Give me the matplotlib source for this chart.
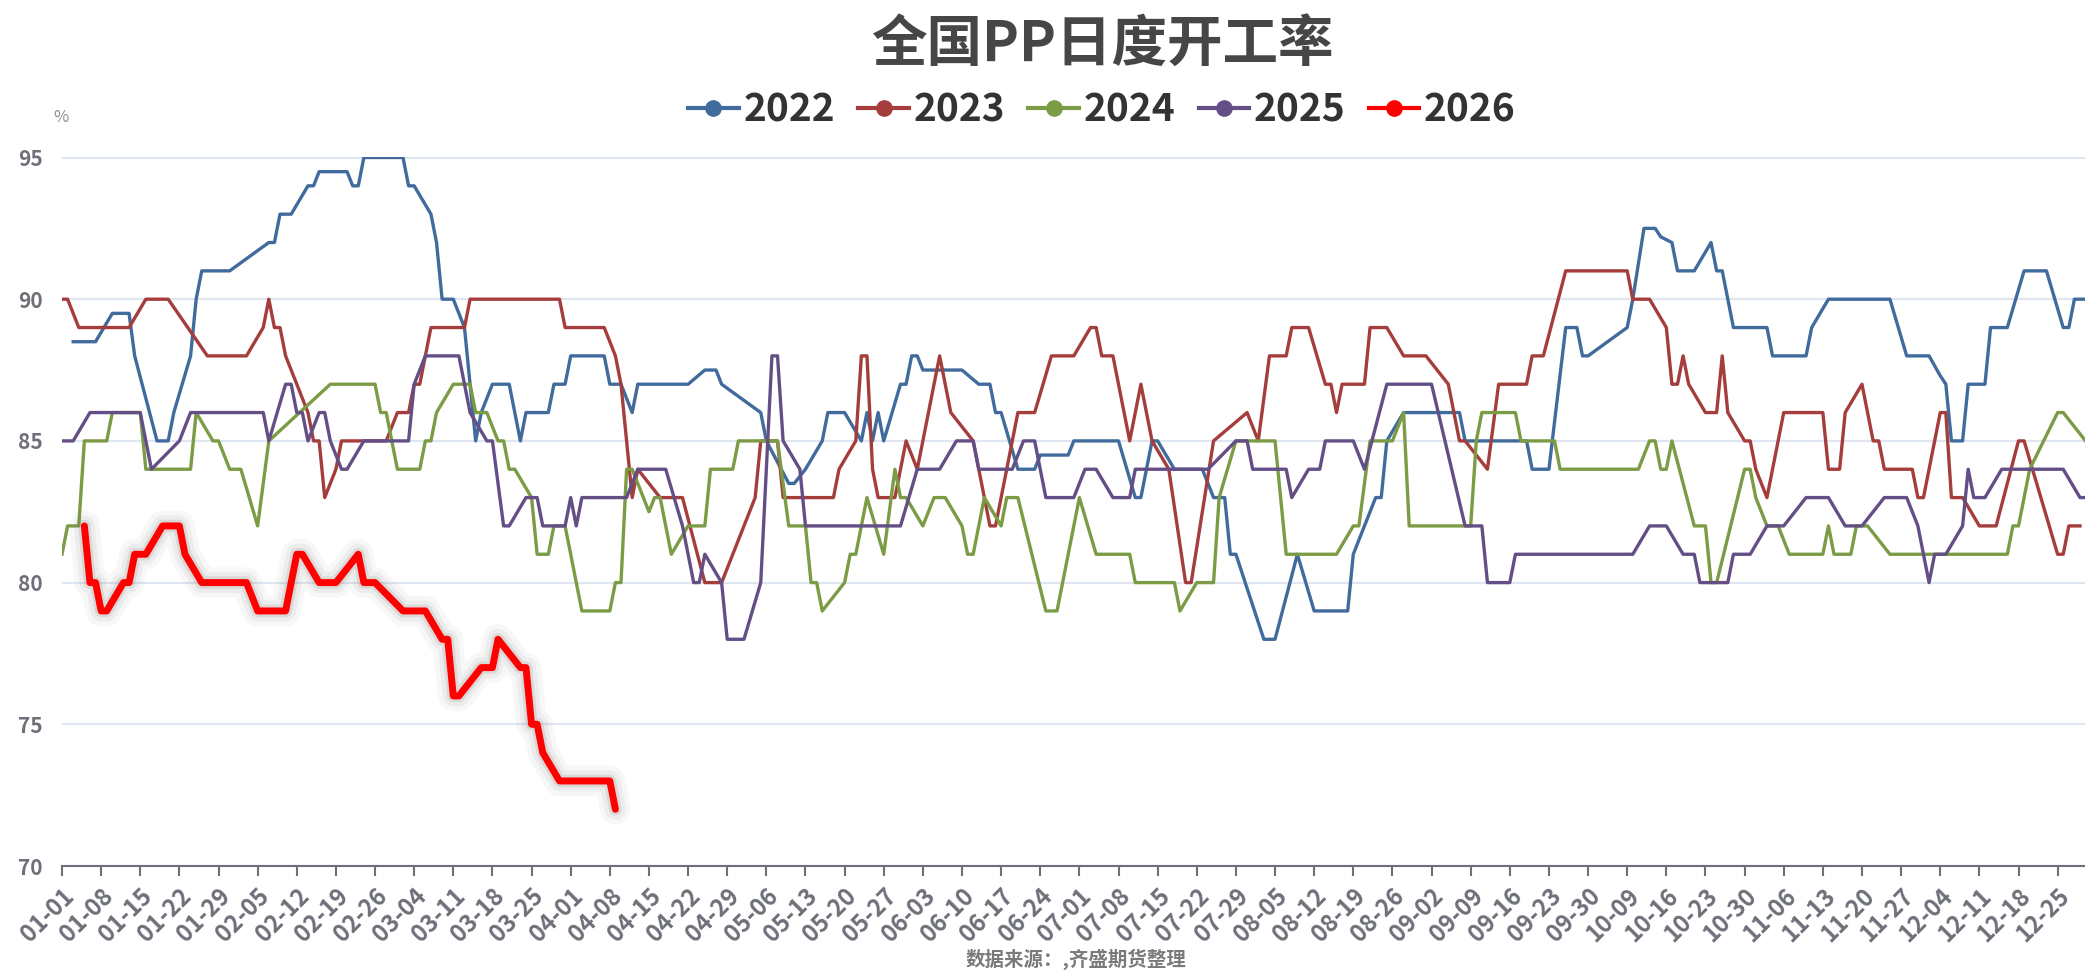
import matplotlib
matplotlib.use("Agg")
import matplotlib.pyplot as plt
import matplotlib.patheffects as pe
from matplotlib.lines import Line2D
import pandas as pd

plt.rcParams["font.family"] = ["Noto Sans CJK SC", "DejaVu Sans"]

# category axis: month-day labels (leap year), two holiday days not in the data
days = pd.date_range("2024-01-01", "2024-12-31").strftime("%m-%d").tolist()
categories = [d for d in days if d not in ("10-01", "10-02")]

years = ["2022", "2023", "2024", "2025", "2026"]
colors = ["#406b9c", "#a43d3b", "#7b9b45", "#634f85", "#ff0000"]

s2022 = [("01-03", 88.5), ("01-07", 88.5), ("01-10", 89.5), ("01-13", 89.5), ("01-14", 88), ("01-16", 86.5),
         ("01-18", 85), ("01-20", 85), ("01-21", 86), ("01-24", 88), ("01-25", 90), ("01-26", 91), ("01-31", 91),
         ("02-07", 92), ("02-08", 92), ("02-09", 93), ("02-11", 93), ("02-14", 94), ("02-15", 94), ("02-16", 94.5),
         ("02-21", 94.5), ("02-22", 94), ("02-23", 94), ("02-24", 95), ("03-02", 95), ("03-03", 94), ("03-04", 94),
         ("03-07", 93), ("03-08", 92), ("03-09", 90), ("03-11", 90), ("03-13", 89), ("03-15", 85), ("03-16", 86),
         ("03-18", 87), ("03-21", 87), ("03-23", 85), ("03-24", 86), ("03-28", 86), ("03-29", 87), ("03-31", 87),
         ("04-01", 88), ("04-07", 88), ("04-08", 87), ("04-10", 87), ("04-12", 86), ("04-13", 87), ("04-22", 87),
         ("04-25", 87.5), ("04-27", 87.5), ("04-28", 87), ("05-05", 86), ("05-06", 85), ("05-10", 83.5),
         ("05-11", 83.5), ("05-13", 84), ("05-16", 85), ("05-17", 86), ("05-20", 86), ("05-23", 85), ("05-24", 86),
         ("05-25", 85), ("05-26", 86), ("05-27", 85), ("05-30", 87), ("05-31", 87), ("06-01", 88), ("06-02", 88),
         ("06-03", 87.5), ("06-10", 87.5), ("06-13", 87), ("06-15", 87), ("06-16", 86), ("06-17", 86), ("06-20", 84),
         ("06-23", 84), ("06-24", 84.5), ("06-29", 84.5), ("06-30", 85), ("07-08", 85), ("07-11", 83), ("07-12", 83),
         ("07-14", 85), ("07-15", 85), ("07-18", 84), ("07-23", 84), ("07-25", 83), ("07-27", 83), ("07-28", 81),
         ("07-29", 81), ("08-03", 78), ("08-05", 78), ("08-09", 81), ("08-12", 79), ("08-18", 79), ("08-19", 81),
         ("08-21", 82), ("08-23", 83), ("08-24", 83), ("08-25", 85), ("08-28", 86), ("09-07", 86), ("09-08", 85),
         ("09-19", 85), ("09-20", 84), ("09-23", 84), ("09-26", 89), ("09-28", 89), ("09-29", 88), ("09-30", 88),
         ("10-09", 89), ("10-10", 90), ("10-12", 92.5), ("10-14", 92.5), ("10-15", 92.2), ("10-17", 92),
         ("10-18", 91), ("10-21", 91), ("10-24", 92), ("10-25", 91), ("10-26", 91), ("10-28", 89), ("11-03", 89),
         ("11-04", 88), ("11-10", 88), ("11-11", 89), ("11-14", 90), ("11-25", 90), ("11-28", 88), ("12-02", 88),
         ("12-04", 87.3), ("12-05", 87), ("12-06", 85), ("12-08", 85), ("12-09", 87), ("12-12", 87), ("12-13", 89),
         ("12-16", 89), ("12-19", 91), ("12-23", 91), ("12-26", 89), ("12-27", 89), ("12-28", 90), ("12-31", 90)]

s2023 = [("01-01", 90), ("01-02", 90), ("01-04", 89), ("01-13", 89), ("01-16", 90), ("01-20", 90), ("01-27", 88),
         ("02-03", 88), ("02-06", 89), ("02-07", 90), ("02-08", 89), ("02-09", 89), ("02-10", 88), ("02-14", 86),
         ("02-15", 85), ("02-16", 85), ("02-17", 83), ("02-19", 84), ("02-20", 85), ("02-28", 85), ("03-01", 86),
         ("03-03", 86), ("03-04", 87), ("03-05", 87), ("03-07", 89), ("03-13", 89), ("03-14", 90), ("03-30", 90),
         ("03-31", 89), ("04-07", 89), ("04-09", 88), ("04-10", 87), ("04-11", 85), ("04-12", 83), ("04-13", 84),
         ("04-17", 83), ("04-21", 83), ("04-25", 80), ("04-28", 80), ("05-04", 83), ("05-05", 85), ("05-08", 85),
         ("05-09", 83), ("05-18", 83), ("05-19", 84), ("05-22", 85), ("05-23", 88), ("05-24", 88), ("05-25", 84),
         ("05-26", 83), ("05-29", 83), ("05-31", 85), ("06-02", 84), ("06-06", 88), ("06-08", 86), ("06-12", 85),
         ("06-13", 84), ("06-15", 82), ("06-16", 82), ("06-20", 86), ("06-23", 86), ("06-26", 88), ("06-30", 88),
         ("07-03", 89), ("07-04", 89), ("07-05", 88), ("07-07", 88), ("07-10", 85), ("07-12", 87), ("07-14", 85),
         ("07-17", 84), ("07-20", 80), ("07-21", 80), ("07-25", 85), ("07-31", 86), ("08-02", 85), ("08-04", 88),
         ("08-07", 88), ("08-08", 89), ("08-11", 89), ("08-14", 87), ("08-15", 87), ("08-16", 86), ("08-17", 87),
         ("08-21", 87), ("08-22", 89), ("08-25", 89), ("08-28", 88), ("09-01", 88), ("09-05", 87), ("09-07", 85),
         ("09-08", 85), ("09-12", 84), ("09-14", 87), ("09-19", 87), ("09-20", 88), ("09-22", 88), ("09-26", 91),
         ("10-09", 91), ("10-10", 90), ("10-13", 90), ("10-16", 89), ("10-17", 87), ("10-18", 87), ("10-19", 88),
         ("10-20", 87), ("10-23", 86), ("10-25", 86), ("10-26", 88), ("10-27", 86), ("10-30", 85), ("10-31", 85),
         ("11-01", 84), ("11-03", 83), ("11-06", 86), ("11-13", 86), ("11-14", 84), ("11-16", 84), ("11-17", 86),
         ("11-20", 87), ("11-22", 85), ("11-23", 85), ("11-24", 84), ("11-29", 84), ("11-30", 83), ("12-01", 83),
         ("12-04", 86), ("12-05", 86), ("12-06", 83), ("12-08", 83), ("12-11", 82), ("12-14", 82), ("12-18", 85),
         ("12-19", 85), ("12-22", 83), ("12-25", 81), ("12-26", 81), ("12-27", 82), ("12-29", 82)]

s2024 = [("01-01", 81), ("01-02", 82), ("01-04", 82), ("01-05", 85), ("01-09", 85), ("01-10", 86), ("01-15", 86),
         ("01-16", 84), ("01-24", 84), ("01-25", 86), ("01-28", 85), ("01-29", 85), ("01-31", 84), ("02-02", 84),
         ("02-05", 82), ("02-07", 85), ("02-18", 87), ("02-26", 87), ("02-27", 86), ("02-28", 86), ("03-01", 84),
         ("03-05", 84), ("03-06", 85), ("03-07", 85), ("03-08", 86), ("03-11", 87), ("03-14", 87), ("03-15", 86),
         ("03-17", 86), ("03-19", 85), ("03-20", 85), ("03-21", 84), ("03-22", 84), ("03-25", 83), ("03-26", 81),
         ("03-28", 81), ("03-29", 82), ("03-31", 82), ("04-03", 79), ("04-08", 79), ("04-09", 80), ("04-10", 80),
         ("04-11", 84), ("04-12", 84), ("04-15", 82.5), ("04-16", 83), ("04-17", 83), ("04-19", 81), ("04-22", 82),
         ("04-25", 82), ("04-26", 84), ("04-30", 84), ("05-01", 85), ("05-08", 85), ("05-10", 82), ("05-13", 82),
         ("05-14", 80), ("05-15", 80), ("05-16", 79), ("05-20", 80), ("05-21", 81), ("05-22", 81), ("05-24", 83),
         ("05-27", 81), ("05-29", 84), ("05-30", 83), ("05-31", 83), ("06-03", 82), ("06-05", 83), ("06-07", 83),
         ("06-10", 82), ("06-11", 81), ("06-12", 81), ("06-14", 83), ("06-17", 82), ("06-18", 83), ("06-20", 83),
         ("06-25", 79), ("06-27", 79), ("07-01", 83), ("07-04", 81), ("07-10", 81), ("07-11", 80), ("07-18", 80),
         ("07-19", 79), ("07-22", 80), ("07-25", 80), ("07-26", 83), ("07-29", 85), ("08-05", 85), ("08-07", 81),
         ("08-16", 81), ("08-19", 82), ("08-20", 82), ("08-22", 85), ("08-26", 85), ("08-28", 86), ("08-29", 82),
         ("09-09", 82), ("09-10", 85), ("09-11", 86), ("09-17", 86), ("09-18", 85), ("09-24", 85), ("09-25", 84),
         ("10-11", 84), ("10-13", 85), ("10-14", 85), ("10-15", 84), ("10-16", 84), ("10-17", 85), ("10-21", 82),
         ("10-23", 82), ("10-24", 80), ("10-25", 80), ("10-30", 84), ("10-31", 84), ("11-01", 83), ("11-03", 82),
         ("11-05", 82), ("11-07", 81), ("11-13", 81), ("11-14", 82), ("11-15", 81), ("11-18", 81), ("11-19", 82),
         ("11-21", 82), ("11-25", 81), ("12-16", 81), ("12-17", 82), ("12-18", 82), ("12-20", 84), ("12-25", 86),
         ("12-26", 86), ("12-30", 85)]

s2025 = [("01-01", 85), ("01-03", 85), ("01-06", 86), ("01-15", 86), ("01-17", 84), ("01-22", 85), ("01-24", 86),
         ("02-06", 86), ("02-07", 85), ("02-10", 87), ("02-11", 87), ("02-12", 86), ("02-13", 86), ("02-14", 85),
         ("02-16", 86), ("02-17", 86), ("02-18", 85), ("02-20", 84), ("02-21", 84), ("02-24", 85), ("03-03", 85),
         ("03-04", 87), ("03-06", 88), ("03-12", 88), ("03-14", 86), ("03-17", 85), ("03-18", 85), ("03-20", 82),
         ("03-21", 82), ("03-24", 83), ("03-26", 83), ("03-27", 82), ("03-31", 82), ("04-01", 83), ("04-02", 82),
         ("04-03", 83), ("04-11", 83), ("04-13", 84), ("04-18", 84), ("04-21", 82), ("04-23", 80), ("04-24", 80),
         ("04-25", 81), ("04-28", 80), ("04-29", 78), ("05-02", 78), ("05-05", 80), ("05-07", 88), ("05-08", 88),
         ("05-09", 85), ("05-12", 84), ("05-13", 82), ("05-30", 82), ("06-02", 84), ("06-06", 84), ("06-09", 85),
         ("06-12", 85), ("06-13", 84), ("06-19", 84), ("06-21", 85), ("06-23", 85), ("06-25", 83), ("06-30", 83),
         ("07-02", 84), ("07-04", 84), ("07-07", 83), ("07-10", 83), ("07-11", 84), ("07-24", 84), ("07-29", 85),
         ("07-31", 85), ("08-01", 84), ("08-07", 84), ("08-08", 83), ("08-11", 84), ("08-13", 84), ("08-14", 85),
         ("08-19", 85), ("08-21", 84), ("08-25", 87), ("09-02", 87), ("09-08", 82), ("09-11", 82), ("09-12", 80),
         ("09-16", 80), ("09-17", 81), ("10-10", 81), ("10-13", 82), ("10-16", 82), ("10-19", 81), ("10-21", 81),
         ("10-22", 80), ("10-27", 80), ("10-28", 81), ("10-31", 81), ("11-03", 82), ("11-06", 82), ("11-10", 83),
         ("11-14", 83), ("11-17", 82), ("11-20", 82), ("11-24", 83), ("11-28", 83), ("11-30", 82), ("12-02", 80),
         ("12-03", 81), ("12-05", 81), ("12-08", 82), ("12-09", 84), ("12-10", 83), ("12-12", 83), ("12-15", 84),
         ("12-26", 84), ("12-29", 83), ("12-31", 83)]

s2026 = [("01-05", 82), ("01-06", 80), ("01-07", 80), ("01-08", 79), ("01-09", 79), ("01-12", 80), ("01-13", 80),
         ("01-14", 81), ("01-16", 81), ("01-19", 82), ("01-22", 82), ("01-23", 81), ("01-26", 80), ("02-03", 80),
         ("02-05", 79), ("02-10", 79), ("02-12", 81), ("02-13", 81), ("02-16", 80), ("02-19", 80), ("02-23", 81),
         ("02-24", 80), ("02-26", 80), ("03-02", 79), ("03-06", 79), ("03-09", 78), ("03-10", 78), ("03-11", 76),
         ("03-12", 76), ("03-16", 77), ("03-18", 77), ("03-19", 78), ("03-23", 77), ("03-24", 77), ("03-25", 75),
         ("03-26", 75), ("03-27", 74), ("03-30", 73), ("04-08", 73), ("04-09", 72)]

series = [s2022, s2023, s2024, s2025, s2026]
tick_idx = list(range(0, len(categories), 7))
tick_labels = [categories[i] for i in tick_idx]

W, H = 2085, 971
fig = plt.figure(figsize=(W / 100, H / 100), dpi=100)
x_left, x_end = 62, 62 + 363 * 5.59
ax = fig.add_axes([x_left / W, 1 - 866 / H, (x_end - x_left) / W, (866 - 157.5) / H])

grey = "#6e7079"
for name, data, col in zip(years, series, colors):
    xs = [categories.index(d) for d, _ in data]
    ys = [v for _, v in data]
    if name == "2026":
        ax.plot(xs, ys, color=col, lw=5, zorder=6, solid_joinstyle="round", solid_capstyle="round",
                path_effects=[pe.Stroke(linewidth=22, foreground=(0.45, 0.45, 0.45, 0.05)),
                              pe.Stroke(linewidth=15, foreground=(0.45, 0.45, 0.45, 0.08)),
                              pe.Stroke(linewidth=9, foreground=(0.5, 0.4, 0.4, 0.15)),
                              pe.Normal()])
    else:
        ax.plot(xs, ys, color=col, lw=2.4, zorder=4, solid_joinstyle="round")

ax.set_xlim(0, len(categories) - 1)
ax.set_ylim(70, 95)
ax.set_yticks([70, 75, 80, 85, 90, 95])
ax.grid(axis="y", color="#e0e6f1", lw=1.5, zorder=0)
ax.set_axisbelow(True)
for s in ("top", "right", "left"):
    ax.spines[s].set_visible(False)
ax.spines["bottom"].set_color(grey)
ax.spines["bottom"].set_linewidth(1.5)
ax.tick_params(axis="y", length=0, pad=14, labelsize=15, labelcolor=grey)
for t in ax.get_yticklabels():
    t.set_fontweight("bold")

ax.set_xticks(tick_idx)
ax.set_xticklabels(tick_labels, rotation=45, ha="right", va="top", rotation_mode="anchor",
                   fontsize=17, fontweight="bold", color=grey)
ax.tick_params(axis="x", length=7, width=1.5, color=grey, pad=6)

fig.text(61 / W, 1 - 117 / H, "%", ha="center", va="center", fontsize=12, color="#8a8d94")
fig.text(1102 / W, 1 - 45 / H, "全国PP日度开工率", ha="center", va="center",
         fontsize=40, fontweight="bold", color="#464646")
fig.text(1076 / W, 1 - 959 / H, "数据来源：,齐盛期货整理", ha="center", va="center",
         fontsize=14, fontweight="bold", color="#7a7a7a")

handles = [Line2D([0], [0], color=c, lw=3, marker="o", markersize=11, markeredgecolor=c) for c in colors]
fig.legend(handles, years, loc="center", bbox_to_anchor=(1102 / W, 1 - 110 / H), ncol=5, frameon=False,
           prop={"size": 28, "weight": "bold"}, handlelength=1.3, handletextpad=0.12, columnspacing=0.6,
           labelcolor="#333333")

fig.savefig("out.png", dpi=100)
